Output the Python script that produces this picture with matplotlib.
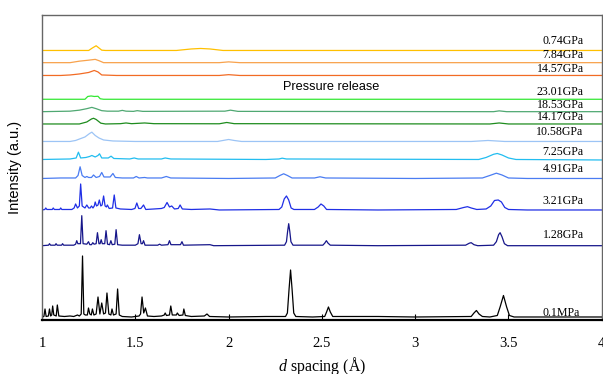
import matplotlib
matplotlib.use('Agg')
import matplotlib.pyplot as plt

plt.rcParams['font.family'] = 'Liberation Serif'
plt.rcParams['mathtext.fontset'] = 'custom'
plt.rcParams['mathtext.rm'] = 'Liberation Serif'
plt.rcParams['mathtext.it'] = 'Liberation Serif:italic'

# patterns, bottom to top: d spacing (A) and intensity above each trace's baseline
labels = ['0.1MPa', '1.28GPa', '3.21GPa', '4.91GPa', '7.25GPa', '10.58GPa',
          '14.17GPa', '18.53GPa', '23.01GPa', '14.57GPa', '7.84GPa', '0.74GPa']

d_0_1MPa = [1.000, 1.010, 1.016, 1.022, 1.034, 1.040, 1.046, 1.052, 1.057, 1.063, 1.076, 1.082, 1.090,
            1.120, 1.150, 1.170, 1.190, 1.200, 1.210, 1.217, 1.224, 1.232, 1.243, 1.249, 1.256, 1.264,
            1.270, 1.278, 1.290, 1.300, 1.310, 1.320, 1.330, 1.340, 1.348, 1.358, 1.369, 1.375, 1.383,
            1.397, 1.405, 1.414, 1.430, 1.480, 1.520, 1.528, 1.536, 1.545, 1.554, 1.565, 1.600, 1.640,
            1.655, 1.660, 1.667, 1.683, 1.690, 1.698, 1.720, 1.725, 1.735, 1.755, 1.760, 1.768, 1.800,
            1.870, 1.884, 1.898, 2.000, 2.200, 2.305, 2.315, 2.324, 2.332, 2.340, 2.349, 2.360, 2.450,
            2.515, 2.525, 2.535, 2.545, 2.558, 2.800, 3.000, 3.300, 3.315, 3.328, 3.342, 3.360, 3.400,
            3.440, 3.455, 3.473, 3.490, 3.505, 3.530, 4.000]
i_0_1MPa = [0, 0.5, 8, 0.5, 1, 8, 1, 2, 11, 2, 1, 12, 1,
            0.5, 1, 0.5, 2, 1, 3, 61, 3, 2, 2, 9, 3, 2,
            8, 2, 3, 20, 3, 14, 3, 4, 24, 3, 2, 8, 2,
            3, 28, 2, 0.5, 0, 1, 3, 20, 4, 9, 1, 0.5, 1,
            2, 4, 1.5, 2, 11, 2, 2, 4, 1.5, 2, 8, 1.5, 0.5,
            1, 3, 0.5, 0, 0.5, 0.5, 4, 28, 47, 28, 4, 0.5, 0,
            0.5, 5, 10, 5, 0.5, 0.5, 0, 0.5, 4, 6.5, 3, 0.5, 0,
            1.5, 10, 21.5, 10, 1.5, 0, 0]

d_1_28 = [1.000, 1.035, 1.040, 1.046, 1.070, 1.075, 1.081, 1.105, 1.110, 1.116, 1.170, 1.180, 1.186,
          1.192, 1.206, 1.213, 1.220, 1.240, 1.249, 1.256, 1.265, 1.272, 1.279, 1.290, 1.297, 1.305,
          1.311, 1.317, 1.323, 1.336, 1.343, 1.351, 1.362, 1.369, 1.376, 1.390, 1.397, 1.405, 1.430,
          1.500, 1.514, 1.522, 1.531, 1.538, 1.544, 1.552, 1.620, 1.630, 1.640, 1.675, 1.683, 1.691,
          1.742, 1.750, 1.758, 1.900, 1.920, 2.300, 2.310, 2.316, 2.322, 2.328, 2.334, 2.345, 2.505,
          2.515, 2.524, 2.533, 2.545, 2.800, 3.270, 3.290, 3.300, 3.315, 3.335, 3.420, 3.435, 3.447,
          3.455, 3.465, 3.478, 3.495, 4.000]
i_1_28 = [0, 0.5, 2, 0.5, 0.5, 2, 0.5, 0.5, 2, 0.5, 0.5, 1.5, 5,
          2, 2, 30, 2, 1.5, 4, 1, 1, 3, 1.5, 2, 13, 2,
          2, 6, 2, 2, 15, 1.5, 1, 5, 1, 1.5, 16, 1, 0.5,
          0.5, 2, 11, 2, 2, 5, 0.5, 0.5, 1.5, 0.5, 1, 5, 1,
          1, 4, 0.5, 1, 0, 0.5, 4, 14, 22, 14, 4, 0.5, 0.5,
          2.5, 5, 2.5, 0.5, 0, 0.5, 2.5, 3, 1, 0, 0.5, 4, 11,
          13, 9, 2, 0, 0]

d_3_21 = [1.000, 1.015, 1.020, 1.026, 1.055, 1.060, 1.066, 1.095, 1.100, 1.106, 1.160, 1.172, 1.180,
          1.190, 1.200, 1.207, 1.215, 1.230, 1.240, 1.250, 1.258, 1.265, 1.273, 1.280, 1.285, 1.292,
          1.300, 1.307, 1.315, 1.322, 1.330, 1.338, 1.345, 1.350, 1.360, 1.378, 1.387, 1.396, 1.420,
          1.480, 1.498, 1.508, 1.518, 1.530, 1.544, 1.556, 1.600, 1.640, 1.655, 1.670, 1.683, 1.695,
          1.710, 1.730, 1.740, 1.752, 1.800, 1.900, 1.950, 2.270, 2.285, 2.298, 2.310, 2.322, 2.335,
          2.350, 2.460, 2.480, 2.495, 2.510, 2.525, 2.800, 3.220, 3.260, 3.280, 3.300, 3.330, 3.380,
          3.405, 3.425, 3.445, 3.462, 3.480, 3.500, 3.600, 4.000]
i_3_21 = [0, 0.5, 2, 0.5, 0.5, 2, 0.5, 0.5, 2, 0.5, 0.5, 2, 6,
          2, 4, 26, 4, 2, 5, 2, 2, 4, 2, 4, 8, 4,
          5, 10, 4, 5, 14, 4, 3, 5, 1.5, 2, 15, 2, 1,
          0.5, 1.5, 7, 1.5, 1.5, 5, 0.5, 1, 1.5, 2.5, 7.5, 3, 4,
          1, 1.5, 5, 1, 0.5, 1, 0, 0.5, 3, 11, 14, 10, 2,
          0.5, 0.5, 3, 6, 4, 0.5, 0, 0.5, 2.5, 3.3, 2, 0.5, 1,
          4, 9.5, 10, 8, 2.5, 0.5, 0, 0]

d_4_91 = [1.000, 1.100, 1.180, 1.193, 1.204, 1.215, 1.230, 1.240, 1.250, 1.265, 1.276, 1.290, 1.308,
          1.320, 1.332, 1.365, 1.380, 1.393, 1.430, 1.490, 1.505, 1.520, 1.550, 1.565, 1.640, 1.666,
          1.690, 2.000, 2.250, 2.275, 2.295, 2.315, 2.340, 2.460, 2.490, 2.520, 3.000, 3.360, 3.400,
          3.435, 3.465, 3.500, 3.600, 4.000]
i_4_91 = [0, 0.5, 0.5, 3, 11.7, 3, 1, 2, 1, 1, 3.5, 1, 2,
          6, 1.5, 1.5, 5, 1, 0.5, 0.5, 2, 0.5, 1, 0.5, 0.5, 2,
          0.5, 0, 0.5, 3, 4.7, 3, 0.5, 0.5, 1.7, 0.5, 0, 0.5, 3,
          5.3, 3.5, 0.5, 0, 0]

d_7_25 = [1.000, 1.150, 1.183, 1.195, 1.207, 1.235, 1.255, 1.267, 1.285, 1.300, 1.308, 1.320, 1.355,
          1.370, 1.385, 1.470, 1.494, 1.515, 1.640, 1.660, 1.690, 2.200, 2.270, 2.287, 2.310, 3.340,
          3.380, 3.420, 3.440, 3.465, 3.500, 3.540, 4.000]
i_7_25 = [0, 0.5, 1.5, 7.3, 1.5, 2, 3, 4, 2.5, 4, 5.7, 1.5, 1.5,
          3.3, 1, 0.5, 1.5, 0.5, 0.5, 1.5, 0.5, 0, 0.5, 1.3, 0.5, 0,
          2, 5.2, 6, 4.5, 1.5, 0, -0.5]

d_10_58 = [1.000, 1.150, 1.180, 1.204, 1.230, 1.255, 1.267, 1.285, 1.305, 1.330, 1.380, 1.500, 1.940,
           1.970, 2.000, 2.030, 2.070, 3.300, 3.390, 3.480, 4.000]
i_10_58 = [0, 0, 1, 2.7, 4.5, 8, 9.3, 6, 3.5, 1.5, 0.5, 0, 0,
           1, 2, 1, 0, 0, 1, 0, 0]

d_14_17 = [1.000, 1.200, 1.240, 1.265, 1.276, 1.290, 1.315, 1.340, 1.420, 1.450, 1.480, 1.550, 1.600,
           1.950, 1.990, 2.030, 3.400, 3.450, 3.500, 4.000]
i_14_17 = [0, 0, 2, 5, 5.7, 4.5, 0.8, 0, 0.3, 1, 0.3, 1, 0.3,
           0.2, 1.5, 0.3, 0, 1, 0, 0]

d_18_53 = [1.000, 1.150, 1.200, 1.240, 1.267, 1.290, 1.320, 1.350, 1.410, 1.430, 1.450, 1.490, 1.510,
           1.540, 1.980, 2.010, 2.050, 3.420, 3.450, 3.490, 4.000]
i_18_53 = [0, 0.5, 1.5, 3, 4.3, 3, 1, 0.5, 0.5, 1.3, 0.5, 0.3, 1,
           0.3, 0.5, 1.5, 0.3, 0, 0.8, 0, 0]

d_23_01 = [1.000, 1.230, 1.245, 1.263, 1.280, 1.300, 1.312, 1.330, 4.000]
i_23_01 = [0, 0, 2.8, 3.3, 2.8, 3, 0.5, 0, 0]

d_14_57 = [1.000, 1.100, 1.150, 1.200, 1.250, 1.280, 1.300, 1.320, 1.400, 1.950, 2.000, 2.060, 4.000]
i_14_57 = [0, 0, 0.5, 1.5, 3, 5, 3.5, 0.5, 0, 0, 0.8, 0, 0]

d_7_84 = [1.000, 1.150, 1.200, 1.250, 1.285, 1.305, 1.330, 1.950, 2.000, 2.060, 4.000]
i_7_84 = [0, 0, 1.5, 2.5, 3.3, 2, 0, 0, 0.8, 0, 0]

d_0_74 = [1.000, 1.250, 1.270, 1.290, 1.305, 1.320, 1.340, 1.720, 1.800, 1.850, 1.900, 1.970, 4.000]
i_0_74 = [0, 0, 2.5, 4.7, 2.5, 0.3, 0, 0, 1.5, 2, 1.5, 0, 0]

d_all = [d_0_1MPa, d_1_28, d_3_21, d_4_91, d_7_25, d_10_58, d_14_17, d_18_53, d_23_01, d_14_57, d_7_84, d_0_74]
i_all = [i_0_1MPa, i_1_28, i_3_21, i_4_91, i_7_25, i_10_58, i_14_17, i_18_53, i_23_01, i_14_57, i_7_84, i_0_74]

# stacking offsets and label heights
offsets = [3, 74.3, 110, 141.5, 160.5, 178.5, 196, 208.3, 220.7, 244.5, 257.3, 269.5]
label_y = [7.3, 85, 119, 150.7, 168.3, 187.7, 203.3, 215, 228, 250.7, 264.7, 279.3]
colors = ['#000000', '#16168a', '#1f2fe6', '#4a7cf2', '#22bdf0', '#9cc4f5',
          '#1e8c1e', '#4fa872', '#33e833', '#f26b24', '#f8a24c', '#ffc000']

fig = plt.figure(figsize=(6.03, 3.74), dpi=100)
ax = fig.add_axes([0.0697, 0.1444, 0.9283, 0.8156])

for d, inten, off, col in zip(d_all, i_all, offsets, colors):
    ax.plot(d, [v + off for v in inten], color=col, lw=0.9)

for lab, ly in zip(labels, label_y):
    xr = 3.882 if lab == '0.1MPa' else 3.903
    ax.text(xr, ly, lab, ha='right', va='center', fontsize=8.6)

ax.text(2.548, 233.3, 'Pressure release', ha='center', va='center', fontsize=9.2,
        family='Liberation Sans')

ax.set_xlim(1, 4)
ax.set_ylim(0, 305)
ax.set_xticks([1, 1.5, 2, 2.5, 3, 3.5, 4])
ax.set_xticklabels(['1', '1.5', '2', '2.5', '3', '3.5', '4'])
ax.set_yticks([])
ax.tick_params(axis='x', direction='in', length=4, width=0.8, pad=12, labelsize=10.5)

for s in ['left', 'top', 'right']:
    ax.spines[s].set_color('#666666')
    ax.spines[s].set_linewidth(1.0)
ax.spines['bottom'].set_color('black')
ax.spines['bottom'].set_linewidth(1.6)

ax.set_xlabel(r'$d$ spacing (Å)', fontsize=11.5, labelpad=4)
ax.set_ylabel('Intensity (a.u.)', fontsize=10.5, family='Liberation Sans')
ax.yaxis.set_label_coords(-0.036, 0.5)

plt.savefig('out.png', dpi=100)
plt.close()
